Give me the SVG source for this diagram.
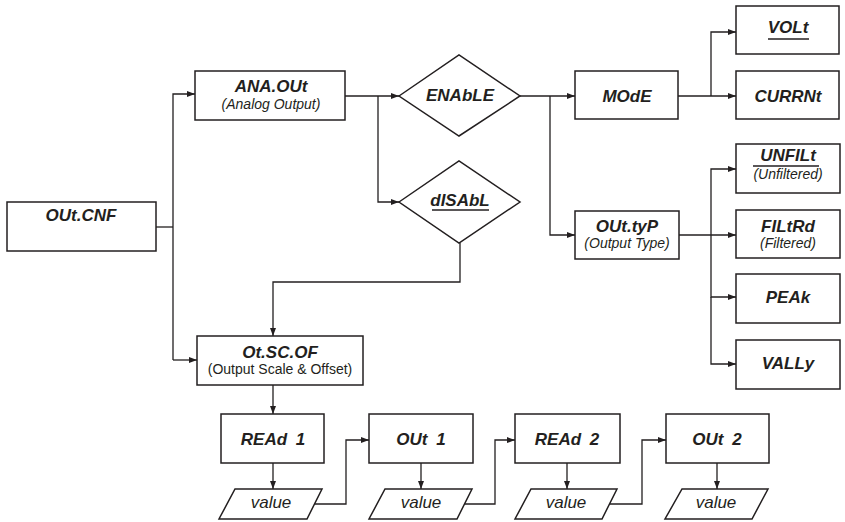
<svg xmlns="http://www.w3.org/2000/svg" width="845" height="522" viewBox="0 0 845 522">
<style>
.box{fill:#fff;stroke:#231f20;stroke-width:1.5}
.t{font-family:"Liberation Sans",Arial,sans-serif;font-weight:bold;font-style:italic;font-size:17px;fill:#231f20;text-anchor:middle}
.s{font-family:"Liberation Sans",Arial,sans-serif;font-style:italic;font-size:14px;fill:#231f20;text-anchor:middle}
.n{font-family:"Liberation Sans",Arial,sans-serif;font-size:14px;fill:#231f20;text-anchor:middle}
.v{font-family:"Liberation Sans",Arial,sans-serif;font-style:italic;font-size:17px;fill:#231f20;text-anchor:middle}
.c{fill:none;stroke:#231f20;stroke-width:1.3}
.u{stroke:#231f20;stroke-width:1.3}
</style>
<defs>
<marker id="a" markerWidth="8" markerHeight="6" refX="8" refY="3" orient="auto" markerUnits="userSpaceOnUse">
<path d="M0,0 L8,3 L0,6 Z" fill="#231f20"/>
</marker>
</defs>
<g id="connectors">
<path class="c" d="M156,227 H173"/>
<path class="c" d="M173,360 V94 H195" marker-end="url(#a)"/>
<path class="c" d="M173,360 H197" marker-end="url(#a)"/>
<path class="c" d="M345,96 H399" marker-end="url(#a)"/>
<path class="c" d="M378,96 V202 H399" marker-end="url(#a)"/>
<path class="c" d="M520,96 H575" marker-end="url(#a)"/>
<path class="c" d="M550,96 V235 H575" marker-end="url(#a)"/>
<path class="c" d="M678,96 H736" marker-end="url(#a)"/>
<path class="c" d="M711,96 V32 H736" marker-end="url(#a)"/>
<path class="c" d="M679,235 H736" marker-end="url(#a)"/>
<path class="c" d="M711,235 V169 H736" marker-end="url(#a)"/>
<path class="c" d="M711,235 V297 H736" marker-end="url(#a)"/>
<path class="c" d="M711,297 V364 H736" marker-end="url(#a)"/>
<path class="c" d="M460,243 V282 H273 V336" marker-end="url(#a)"/>
<path class="c" d="M273,385 V414" marker-end="url(#a)"/>
<path class="c" d="M273,463 V489" marker-end="url(#a)"/>
<path class="c" d="M314,504 H346 V440 H369" marker-end="url(#a)"/>
<path class="c" d="M421,463 V489" marker-end="url(#a)"/>
<path class="c" d="M464,504 H495 V440 H515" marker-end="url(#a)"/>
<path class="c" d="M567,463 V489" marker-end="url(#a)"/>
<path class="c" d="M609,504 H642 V440 H666" marker-end="url(#a)"/>
<path class="c" d="M717,463 V489" marker-end="url(#a)"/>
</g>
<g id="outcnf">
<rect class="box" x="7" y="202" width="149" height="49"/>
<text class="t" x="81" y="221">OUt.CNF</text>
</g>
<g id="anaout">
<rect class="box" x="195" y="71" width="150" height="49"/>
<text class="t" x="271" y="92">ANA.OUt</text>
<text class="s" x="271" y="109">(Analog Output)</text>
</g>
<g id="enable">
<polygon class="box" points="399,96 459,55 520,96 459,136"/>
<text class="t" x="460" y="101">ENAbLE</text>
</g>
<g id="disabl">
<polygon class="box" points="399,202 459,161 520,202 459,243"/>
<text class="t" x="460" y="206">dISAbL</text>
<line class="u" x1="432" y1="210" x2="489" y2="210"/>
</g>
<g id="mode">
<rect class="box" x="575" y="71" width="103" height="48"/>
<text class="t" x="627" y="102">MOdE</text>
</g>
<g id="volt">
<rect class="box" x="736" y="6" width="103" height="48"/>
<text class="t" x="788" y="33">VOLt</text>
<line class="u" x1="768" y1="39" x2="809" y2="39"/>
</g>
<g id="currnt">
<rect class="box" x="736" y="71" width="103" height="48"/>
<text class="t" x="788" y="102">CURRNt</text>
</g>
<g id="outtyp">
<rect class="box" x="575" y="211" width="104" height="48"/>
<text class="t" x="627" y="232">OUt.tyP</text>
<text class="s" x="627" y="248">(Output Type)</text>
</g>
<g id="unfilt">
<rect class="box" x="736" y="144" width="104" height="49"/>
<text class="t" x="788" y="161">UNFILt</text>
<line class="u" x1="753" y1="166" x2="819" y2="166"/>
<text class="s" x="788" y="179">(Unfiltered)</text>
</g>
<g id="filtrd">
<rect class="box" x="736" y="210" width="104" height="48"/>
<text class="t" x="788" y="232">FILtRd</text>
<text class="s" x="788" y="248">(Filtered)</text>
</g>
<g id="peak">
<rect class="box" x="736" y="274" width="104" height="49"/>
<text class="t" x="788" y="303">PEAk</text>
</g>
<g id="vally">
<rect class="box" x="736" y="340" width="104" height="49"/>
<text class="t" x="788" y="369">VALLy</text>
</g>
<g id="otscof">
<rect class="box" x="197" y="336" width="166" height="49"/>
<text class="t" x="280" y="358">Ot.SC.OF</text>
<text class="n" x="280" y="374">(Output Scale &amp; Offset)</text>
</g>
<g id="read1">
<rect class="box" x="221" y="414" width="103" height="49"/>
<text class="t" x="273" y="445" word-spacing="4">REAd 1</text>
</g>
<g id="value1">
<polygon class="box" points="235,489 322,489 307,519 219,519"/>
<text class="v" x="271" y="508">value</text>
</g>
<g id="out1">
<rect class="box" x="369" y="414" width="104" height="49"/>
<text class="t" x="421" y="445" word-spacing="4">OUt 1</text>
</g>
<g id="value2">
<polygon class="box" points="385,489 472,489 457,519 369,519"/>
<text class="v" x="421" y="508">value</text>
</g>
<g id="read2">
<rect class="box" x="515" y="414" width="105" height="49"/>
<text class="t" x="567" y="445" word-spacing="4">REAd 2</text>
</g>
<g id="value3">
<polygon class="box" points="531,489 617,489 602,519 515,519"/>
<text class="v" x="566" y="508">value</text>
</g>
<g id="out2">
<rect class="box" x="666" y="414" width="103" height="49"/>
<text class="t" x="717" y="445" word-spacing="4">OUt 2</text>
</g>
<g id="value4">
<polygon class="box" points="682,489 768,489 752,519 665,519"/>
<text class="v" x="716" y="508">value</text>
</g>
</svg>
